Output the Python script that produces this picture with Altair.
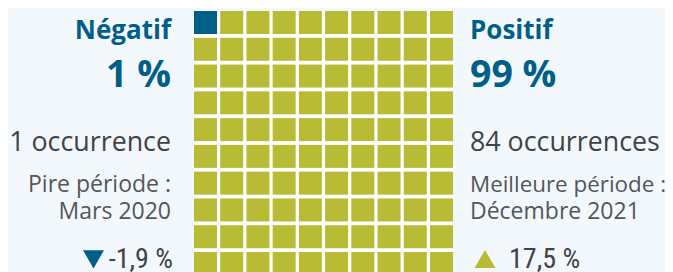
import altair as alt
import pandas as pd

# ---- data ----
labels = ["Négatif", "Positif"]
percents = [1, 99]
occurrences = [1, 84]
period_titles = ["Pire période :", "Meilleure période :"]
periods = ["Mars 2020", "Décembre 2021"]
changes = [-1.9, 17.5]

# ---- styles ----
BLUE = "#005f88"
OLIVE = "#b8bc35"
DARK = "#3e4347"
MID = "#52575b"
BG = "#f3f8fd"
SANS = "Open Sans"
COND = "Roboto Condensed"

W, H = 657, 264
GX0, GX1 = 186, 445
GY0, GY1 = 3, 267
LEFT_X, RIGHT_X = 163, 462


def fr(v):
    s = f"{abs(v):.1f}".replace(".", ",")
    return s if v >= 0 else "-" + s


# waffle cells from the percentages
cells = []
idx = 0
for lab, p in zip(labels, percents):
    for _ in range(p):
        cells.append({"i": idx, "row": idx // 10, "col": idx % 10, "cat": lab})
        idx += 1
cells_df = pd.DataFrame(cells)

panel = alt.Chart(alt.Data(values=[{}])).mark_rect(color="white").encode(
    x=alt.value(GX0), x2=alt.value(GX1), y=alt.value(GY0), y2=alt.value(GY1)
)

grid = alt.Chart(cells_df).mark_rect().encode(
    x=alt.X("col:O", scale=alt.Scale(range=[GX0, GX1], paddingInner=0.123, paddingOuter=0), axis=None),
    y=alt.Y("row:O", scale=alt.Scale(range=[GY0, GY1], paddingInner=0.141, paddingOuter=0), axis=None),
    color=alt.Color("cat:N", scale=alt.Scale(domain=labels, range=[BLUE, OLIVE]), legend=None),
)


def side_df(k):
    occ = occurrences[k]
    return pd.DataFrame([
        {"kind": "title", "t": labels[k]},
        {"kind": "pct", "t": f"{percents[k]} %"},
        {"kind": "occ", "t": f"{occ} occurrence" + ("s" if occ > 1 else "")},
        {"kind": "ptitle", "t": period_titles[k]},
        {"kind": "period", "t": periods[k]},
        {"kind": "chg", "t": fr(changes[k]) + " %"},
    ])


def text_layers(k, x, align, ptitle_size):
    df = side_df(k)
    specs = [
        ("title", 26, "bold", SANS, BLUE, 31),
        ("pct", 37.5, "bold", SANS, BLUE, 79),
        ("occ", 26.8, "normal", SANS, DARK, 143),
        ("ptitle", ptitle_size, "normal", SANS, MID, 184),
        ("period", 23, "normal", SANS, MID, 210.5),
    ]
    out = []
    for kind, size, weight, font, color, y in specs:
        out.append(
            alt.Chart(df).transform_filter(alt.datum.kind == kind).mark_text(
                align=align, baseline="alphabetic", fontSize=size, fontWeight=weight,
                font=font, color=color
            ).encode(x=alt.value(x), y=alt.value(y), text="t:N")
        )
    return df, out


ldf, left = text_layers(0, LEFT_X, "right", 23)
rdf, right = text_layers(1, RIGHT_X, "left", 22.4)

lchg = alt.Chart(ldf).transform_filter(alt.datum.kind == "chg").mark_text(
    align="right", baseline="alphabetic", fontSize=28, font=COND, color=DARK
).encode(x=alt.value(165), y=alt.value(260), text="t:N")
rchg = alt.Chart(rdf).transform_filter(alt.datum.kind == "chg").mark_text(
    align="left", baseline="alphabetic", fontSize=28, font=COND, color=DARK
).encode(x=alt.value(501), y=alt.value(260), text="t:N")

tri_df = pd.DataFrame({"cat": labels, "chg": changes})
ltri = alt.Chart(tri_df).transform_filter(alt.datum.chg < 0).mark_point(
    shape="triangle-down", filled=True, size=440, color=BLUE, opacity=1
).encode(x=alt.value(85.5), y=alt.value(251.3))
rtri = alt.Chart(tri_df).transform_filter(alt.datum.chg > 0).mark_point(
    shape="triangle-up", filled=True, size=440, color=OLIVE, opacity=1
).encode(x=alt.value(477), y=alt.value(251))

chart = alt.layer(panel, grid, *left, *right, lchg, rchg, ltri, rtri).properties(
    width=W, height=H, autosize=alt.AutoSizeParams(type="none"), padding=0, background=BG
).configure_view(stroke=None)

chart.save("out.html", embed_options={"renderer": "svg", "actions": False})
